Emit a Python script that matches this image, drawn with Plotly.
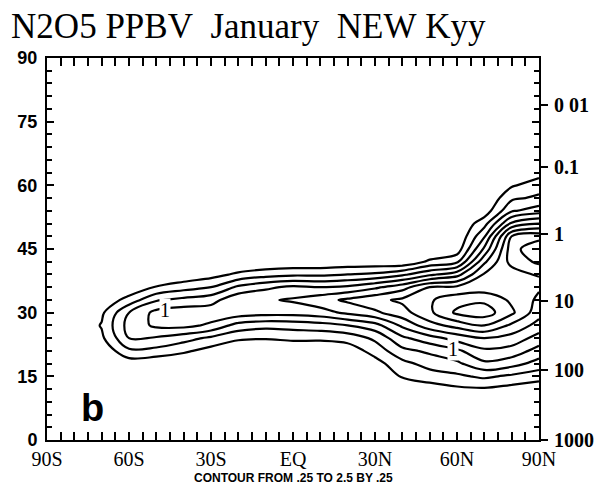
import plotly.graph_objects as go

# ---------------- data ----------------
lats = [-90, -80, -70, -60, -50, -40, -30, -20, -10, 0, 10, 20, 30, 40, 50, 60, 70, 80, 90]
alts = [6, 9, 12, 15, 18, 21, 24, 27, 30, 33, 36, 39, 42, 45, 48, 51, 54, 57, 60, 63, 66]

# N2O5 (ppbv), one row per altitude, one column per latitude
n2o5 = [
    [0, 0, 0, 0, 0, 0, 0, 0, 0, 0, 0, 0, 0, 0, 0, 0, 0, 0, 0],                                            # 6
    [0, 0, 0, 0, 0, 0, 0, 0, 0, 0, 0, 0, 0, 0, 0, 0, 0, 0, 0],                                            # 9
    [0, 0, 0, 0, 0, 0, 0, 0, 0, 0, 0, 0, 0, 0, 0.12, 0.2, 0.22, 0.15, 0.1],                               # 12
    [0, 0, 0, 0, 0, 0, 0, 0, 0, 0, 0, 0, 0, 0.28, 0.38, 0.45, 0.55, 0.45, 0.35],                          # 15
    [0, 0, 0, 0.1, 0.05, 0, 0, 0, 0, 0, 0, 0, 0.15, 0.42, 0.6, 0.7, 0.95, 0.85, 0.65],                    # 18
    [0, 0, 0.05, 0.45, 0.42, 0.3, 0.15, 0, 0, 0, 0.05, 0.1, 0.35, 0.68, 0.8, 0.95, 1.2, 1.15, 0.9],       # 21
    [0, 0, 0.2, 0.75, 0.72, 0.6, 0.45, 0.3, 0.27, 0.32, 0.3, 0.35, 0.55, 0.95, 1.15, 1.35, 1.5, 1.4, 1.15],   # 24
    [0, 0, 0.27, 0.85, 1.05, 1.08, 0.95, 0.65, 0.58, 0.6, 0.65, 0.75, 0.9, 1.3, 1.65, 1.85, 2.0, 1.7, 1.4],   # 27
    [0, 0, 0.2, 0.75, 1.08, 1.15, 1.15, 1.15, 1.1, 1.1, 1.15, 1.3, 1.45, 1.65, 1.95, 2.3, 2.38, 2.05, 1.6],   # 30
    [0, 0, 0.05, 0.35, 0.72, 0.82, 0.9, 1.2, 1.22, 1.28, 1.4, 1.55, 1.68, 1.8, 1.97, 2.15, 2.2, 1.95, 1.7],   # 33
    [0, 0, 0, 0.05, 0.27, 0.4, 0.5, 0.8, 0.95, 1.05, 1.0, 1.05, 1.2, 1.4, 1.75, 1.8, 1.85, 1.8, 1.78],        # 36
    [0, 0, 0, 0, 0, 0.05, 0.15, 0.3, 0.4, 0.45, 0.45, 0.5, 0.55, 0.7, 0.95, 1.15, 1.78, 1.85, 2.05],         # 39
    [0, 0, 0, 0, 0, 0, 0, 0, 0.02, 0.05, 0.05, 0.08, 0.08, 0.05, 0.3, 0.45, 1.45, 2.1, 2.3],                # 42
    [0, 0, 0, 0, 0, 0, 0, 0, 0, 0, 0, 0, 0, 0, 0, 0.1, 1.05, 2.15, 2.45],                                  # 45
    [0, 0, 0, 0, 0, 0, 0, 0, 0, 0, 0, 0, 0, 0, 0, 0, 0.72, 2.0, 2.15],                                     # 48
    [0, 0, 0, 0, 0, 0, 0, 0, 0, 0, 0, 0, 0, 0, 0, 0, 0.4, 1.3, 1.5],                                       # 51
    [0, 0, 0, 0, 0, 0, 0, 0, 0, 0, 0, 0, 0, 0, 0, 0, 0.1, 0.72, 0.88],                                     # 54
    [0, 0, 0, 0, 0, 0, 0, 0, 0, 0, 0, 0, 0, 0, 0, 0, 0, 0.45, 0.55],                                       # 57
    [0, 0, 0, 0, 0, 0, 0, 0, 0, 0, 0, 0, 0, 0, 0, 0, 0, 0.22, 0.38],                                       # 60
    [0, 0, 0, 0, 0, 0, 0, 0, 0, 0, 0, 0, 0, 0, 0, 0, 0, 0, 0.15],                                          # 63
    [0, 0, 0, 0, 0, 0, 0, 0, 0, 0, 0, 0, 0, 0, 0, 0, 0, 0, 0],                                             # 66
]

x_tick_vals = [-90, -60, -30, 0, 30, 60, 90]
x_tick_text = ["90S", "60S", "30S", "EQ", "30N", "60N", "90N"]
alt_tick_vals = [0, 15, 30, 45, 60, 75, 90]
pressure_alt = [79, 64.3, 48.5, 32.7, 16.6, 0]
pressure_text = ["0 01", "0.1", "1", "10", "100", "1000"]

label_points_lat = [-47, 58.5]
label_points_alt = [30.7, 21.5]

NB = "\u00a0"
title_text = "N2O5" + NB + "PPBV" + NB * 2 + "January" + NB * 2 + "NEW" + NB + "Kyy"

SERIF = "Liberation Serif, DejaVu Serif, serif"
SANS = "Liberation Sans, Arial, sans-serif"

fig = go.Figure()
fig.add_trace(go.Contour(
    x=lats, y=alts, z=n2o5,
    contours=dict(coloring="lines", start=0.25, end=2.5, size=0.25, showlabels=False),
    colorscale=[[0, "black"], [1, "black"]],
    showscale=False,
    line=dict(width=2.2, smoothing=1.0),
    hoverinfo="skip",
))
fig.add_trace(go.Scatter(x=[], y=[], yaxis="y2", showlegend=False, hoverinfo="skip"))

for la, al in zip(label_points_lat, label_points_alt):
    fig.add_annotation(x=la, y=al, text="1", showarrow=False,
                       font=dict(family=SERIF, size=20, color="black"),
                       bgcolor="white", borderpad=0)

fig.add_annotation(x=-73.5, y=7.5, text="<b>b</b>", showarrow=False,
                   font=dict(family=SANS, size=38, color="black"))
fig.add_annotation(xref="paper", yref="paper", x=0.5, y=-0.099,
                   text="<b>CONTOUR FROM .25 TO 2.5 BY .25</b>", showarrow=False,
                   xanchor="center", yanchor="middle", borderpad=0,
                   font=dict(family=SANS, size=12, color="black"))

fig.update_layout(
    width=616, height=487,
    margin=dict(l=47, r=77, t=58, b=47),
    paper_bgcolor="white", plot_bgcolor="white",
    showlegend=False,
    title=dict(text=title_text, xref="container", yref="container",
               x=0.018, xanchor="left", y=0.947, yanchor="middle",
               font=dict(family=SERIF, size=35, color="black")),
    xaxis=dict(range=[-90, 90], tickmode="array", tickvals=x_tick_vals, ticktext=x_tick_text,
               ticks="inside", ticklen=8, tickwidth=1.5, tickcolor="black",
               minor=dict(tickmode="linear", tick0=-90, dtick=5, ticks="inside",
                          ticklen=5, tickwidth=1.5, tickcolor="black"),
               showline=True, linecolor="black", linewidth=2, mirror="allticks",
               showgrid=False, zeroline=False, ticklabelstandoff=0,
               tickfont=dict(family=SERIF, size=20, color="black")),
    yaxis=dict(range=[0, 90], tickmode="array", tickvals=alt_tick_vals,
               ticks="inside", ticklen=7, tickwidth=1.5, tickcolor="black",
               minor=dict(tickmode="linear", tick0=0, dtick=3, ticks="inside",
                          ticklen=5, tickwidth=1.5, tickcolor="black"),
               showline=True, linecolor="black", linewidth=2, mirror="allticks",
               showgrid=False, zeroline=False, ticklabelstandoff=4,
               tickfont=dict(family=SANS, size=18, color="black", weight="bold")),
    yaxis2=dict(range=[0, 90], overlaying="y", side="right", anchor="x",
                tickmode="array", tickvals=pressure_alt, ticktext=pressure_text,
                ticks="outside", ticklen=8, tickwidth=1.5, tickcolor="black",
                showline=False, showgrid=False, zeroline=False, ticklabelstandoff=2,
                tickfont=dict(family=SERIF, size=20, color="black", weight="bold")),
)

fig.write_html("out.html")
